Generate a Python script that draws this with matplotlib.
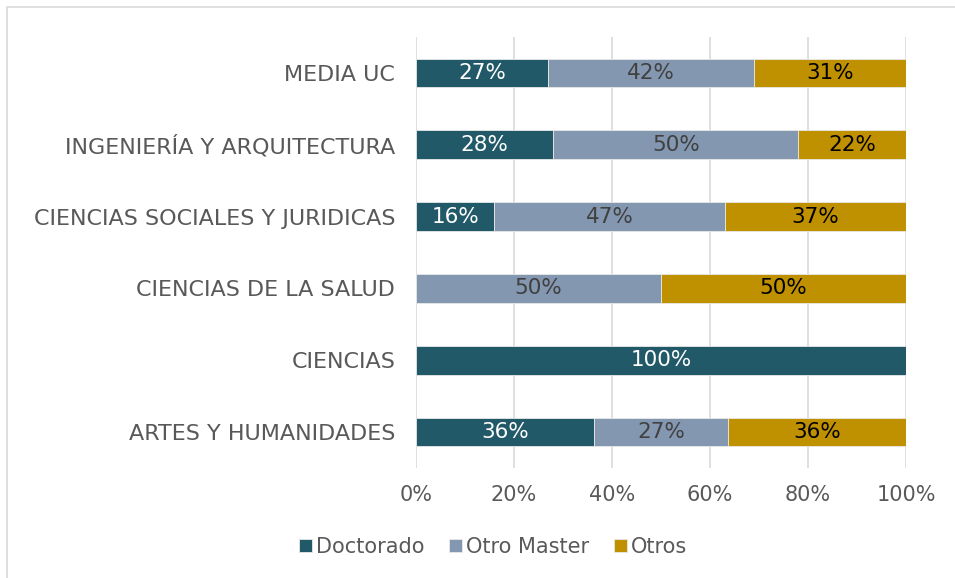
import matplotlib
matplotlib.use("Agg")
import matplotlib.pyplot as plt
import numpy as np
from matplotlib.patches import Rectangle

categories = ["ARTES Y HUMANIDADES", "CIENCIAS", "CIENCIAS DE LA SALUD",
              "CIENCIAS SOCIALES Y JURIDICAS", "INGENIERÍA Y ARQUITECTURA", "MEDIA UC"]
series_names = ["Doctorado", "Otro Master", "Otros"]
doctorado = [36.36, 100, 0, 16, 28, 27]
otro_master = [27.27, 0, 50, 47, 50, 42]
otros = [36.36, 0, 50, 37, 22, 31]
xticks = [0, 20, 40, 60, 80, 100]
xtick_labels = ["0%", "20%", "40%", "60%", "80%", "100%"]

colors = ["#215968", "#8497B0", "#BF9000"]
label_colors = ["white", "#404040", "black"]
text_grey = "#595959"

plt.rcParams['font.family'] = ['DejaVu Sans']
FS = 15

fig = plt.figure(figsize=(9.55, 5.78), dpi=100)
ax = fig.add_axes([416/955, 1-468/578, 490/955, (468-37)/578])

y = np.arange(len(categories))
left = np.zeros(len(categories))
for vals, c, lc, name in zip([doctorado, otro_master, otros], colors, label_colors, series_names):
    vals = np.array(vals, dtype=float)
    ax.barh(y, vals, left=left, height=0.4, color=c, label=name,
            edgecolor="#E8E8E8", linewidth=0.6, zorder=3)
    for yi, l, v in zip(y, left, vals):
        if v > 0:
            ax.text(l + v/2, yi, f"{v:.0f}%", ha="center", va="center",
                    color=lc, fontsize=15.5, zorder=4)
    left += vals

ax.set_xlim(0, 100)
ax.set_ylim(-0.5, len(categories)-0.5)
ax.set_yticks(y)
ax.set_yticklabels(categories, fontsize=16, color=text_grey)
ax.set_xticks(xticks)
ax.set_xticklabels(xtick_labels, fontsize=FS, color=text_grey)
ax.tick_params(axis="both", length=0)
ax.tick_params(axis="y", pad=15)
ax.tick_params(axis="x", pad=12)
ax.xaxis.grid(True, color="#D9D9D9", linewidth=1.2, zorder=0)
for s in ax.spines.values():
    s.set_visible(False)

leg = fig.legend(loc="center", bbox_to_anchor=(493/955, 1-547/578), ncol=3,
                 frameon=False, fontsize=FS, handlelength=0.6, handleheight=0.6,
                 handletextpad=0.2, columnspacing=1.2)
for t in leg.get_texts():
    t.set_color(text_grey)

fig.patches.append(Rectangle((7/955, -0.1), 1.2, 1-7/578+0.1, transform=fig.transFigure,
                             fill=False, edgecolor="#D9D9D9", linewidth=1.2))

fig.savefig("out.png", dpi=100)
